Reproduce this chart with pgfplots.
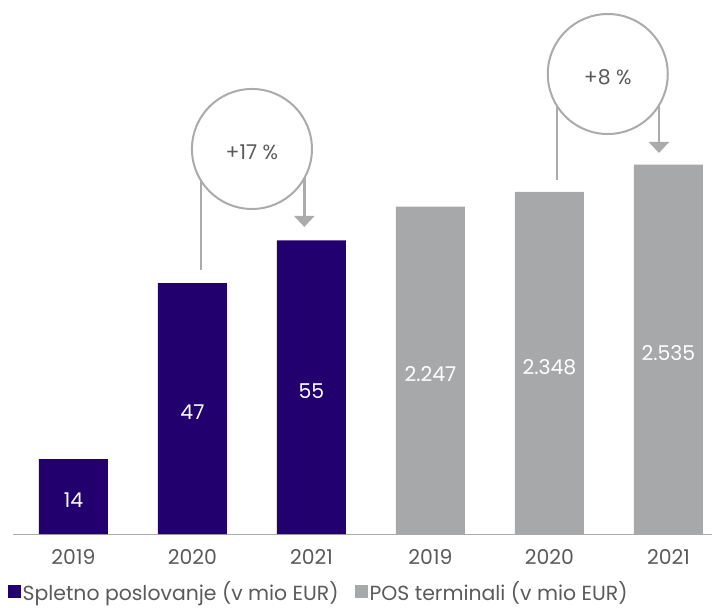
\documentclass[border=0pt]{standalone}
\usepackage{fontspec}
\setmainfont{Poppins}
\usepackage{pgfplots}
\pgfplotsset{compat=1.18}
\usetikzlibrary{arrows.meta}

\definecolor{spletno}{HTML}{22006E}
\definecolor{pos}{HTML}{A7A8AA}
\definecolor{txt}{HTML}{5A5A5A}
\definecolor{annot}{HTML}{ABABAB}
\newcommand\chartfont{\fontsize{20.4bp}{23bp}\selectfont}

\pgfplotsset{
  barbase/.style={
    scale only axis, width=699bp, height=534bp,
    at={(13bp,74bp)}, anchor=south west,
    xmin=-0.508, xmax=5.366, ymin=0,
    clip=false,
    ybar, bar width=69bp, bar shift=0pt,
    nodes near coords,
    nodes near coords align={center},
    visualization depends on={rawy \as \rawy},
    every node near coord/.append style={anchor=center, text=white,
      font=\chartfont, shift={(axis direction cs:0,-\rawy/2)}, yshift=-4bp},
    /pgf/number format/assume math mode=true,
    /pgf/number format/1000 sep={.},
  },
}

\begin{document}
\begin{tikzpicture}
\path[use as bounding box] (0,0) rectangle (712bp,608bp);

% Online sales, values in million EUR
\begin{axis}[barbase,
  ymax=100,
  axis y line=none,
  axis x line*=bottom,
  x axis line style={color=annot, line width=1bp},
  xtick={0,...,5},
  xticklabels={2019,2020,2021,2019,2020,2021},
  major tick length=0pt,
  xticklabel style={text=txt, font=\chartfont, yshift=-12bp},
]
\addplot[fill=spletno, draw=none] coordinates {(0,14) (1,47) (2,55)};

% growth marker 2020 -> 2021
\draw[annot, line width=2.5bp] (axis cs:1.07,72.1) -- (axis cs:1.07,49.4);
\draw[annot, line width=2.5bp, -{Triangle[width=20bp,length=11bp]}]
  (axis cs:1.94,72.1) -- (axis cs:1.94,57.5);
\draw[annot, line width=2bp, fill=white] (axis cs:1.5,72.1) circle[radius=60bp];
\node[text=txt, font=\chartfont, yshift=-3bp] at (axis cs:1.5,72.1) {+17 \%};
\end{axis}

% POS terminals, values in million EUR
\begin{axis}[barbase,
  ymax=3665,
  axis lines=none,
  legend columns=2,
  legend style={at={(axis description cs:-0.008,-0.108)}, anchor=west,
    draw=none, fill=none, inner sep=0pt, font=\chartfont, text=txt,
    /tikz/every even column/.append style={column sep=14bp},
    nodes={inner sep=2bp}},
  legend image code/.code={\fill[#1] (0bp,-6.5bp) rectangle (13bp,6.5bp);},
]
\addlegendimage{fill=spletno, draw=none}
\addlegendentry{Spletno poslovanje (v mio EUR)}
\addplot[fill=pos, draw=none] coordinates {(3,2247) (4,2348) (5,2535)};
\addlegendentry{POS terminali (v mio EUR)}

% growth marker 2020 -> 2021
\draw[annot, line width=2.5bp] (axis cs:4.063,3157) -- (axis cs:4.063,2430);
\draw[annot, line width=2.5bp, -{Triangle[width=20bp,length=11bp]}]
  (axis cs:4.92,3157) -- (axis cs:4.92,2615);
\draw[annot, line width=2bp, fill=white] (axis cs:4.49,3157) circle[radius=60bp];
\node[text=txt, font=\chartfont, yshift=-3bp] at (axis cs:4.49,3157) {+8 \%};
\end{axis}
\end{tikzpicture}
\end{document}
